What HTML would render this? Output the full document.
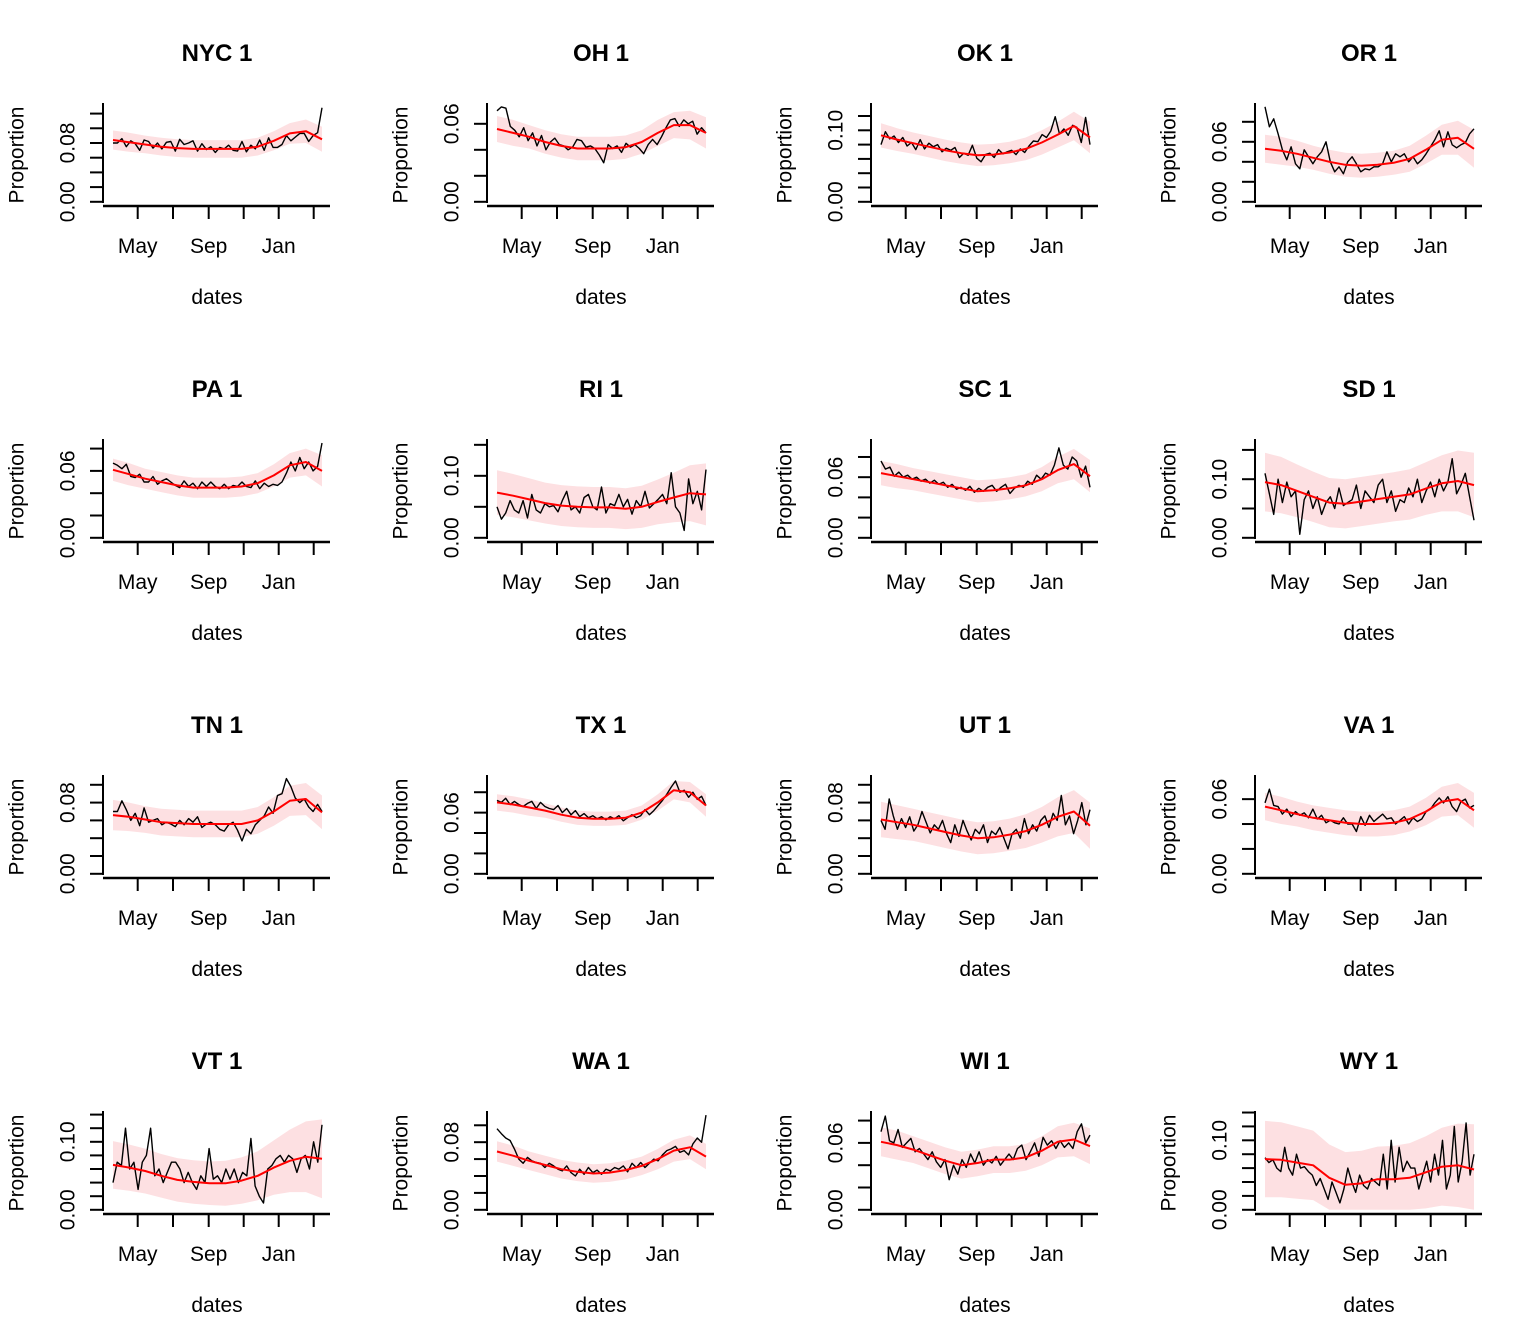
<!DOCTYPE html>
<html><head><meta charset="utf-8"><style>
html,body{margin:0;padding:0;background:#fff;}
svg{display:block;font-family:"Liberation Sans",Arial,sans-serif;}
</style></head><body>
<svg id="chart" width="1536" height="1344" viewBox="0 0 1536 1344" xmlns="http://www.w3.org/2000/svg"></svg>
<script>
const titles = ["NYC 1","OH 1","OK 1","OR 1","PA 1","RI 1","SC 1","SD 1","TN 1","TX 1","UT 1","VA 1","VT 1","WA 1","WI 1","WY 1"];
const monthLabels = ["May","Sep","Jan"];
const tickStep = [0.02,0.02,0.02,0.02,0.02,0.05,0.02,0.05,0.02,0.02,0.02,0.02,0.02,0.02,0.02,0.02];
const tickCount = [7,4,7,5,5,4,5,4,6,5,6,4,8,6,5,8];
const labeledTicks = [["0.00","0.08"],["0.00","0.06"],["0.00","0.10"],["0.00","0.06"],["0.00","0.06"],["0.00","0.10"],["0.00","0.06"],["0.00","0.10"],["0.00","0.08"],["0.00","0.06"],["0.00","0.08"],["0.00","0.06"],["0.00","0.10"],["0.00","0.08"],["0.00","0.06"],["0.00","0.10"]];
const yTop = [0.1344,0.0760,0.1382,0.0988,0.0886,0.1594,0.0978,0.1686,0.111,0.0969,0.111,0.0794,0.1453,0.1169,0.0886,0.1422];
const observed = [
[0.080,0.080,0.086,0.075,0.083,0.079,0.070,0.084,0.082,0.073,0.080,0.072,0.081,0.082,0.069,0.085,0.078,0.080,0.083,0.069,0.079,0.071,0.075,0.067,0.074,0.072,0.077,0.070,0.069,0.082,0.068,0.077,0.072,0.084,0.070,0.087,0.074,0.074,0.078,0.090,0.083,0.088,0.093,0.093,0.082,0.090,0.094,0.128],
[0.070,0.073,0.072,0.058,0.055,0.050,0.057,0.047,0.053,0.043,0.051,0.040,0.046,0.049,0.044,0.043,0.040,0.042,0.048,0.047,0.042,0.043,0.041,0.036,0.030,0.044,0.041,0.043,0.038,0.045,0.042,0.044,0.041,0.037,0.044,0.048,0.044,0.050,0.057,0.063,0.064,0.058,0.063,0.060,0.062,0.052,0.057,0.053],
[0.080,0.098,0.088,0.092,0.083,0.090,0.078,0.083,0.073,0.087,0.074,0.082,0.077,0.080,0.070,0.075,0.072,0.076,0.062,0.068,0.065,0.079,0.061,0.056,0.066,0.068,0.062,0.073,0.067,0.070,0.072,0.066,0.074,0.069,0.078,0.085,0.084,0.094,0.090,0.099,0.119,0.095,0.102,0.093,0.107,0.104,0.083,0.118,0.080],
[0.095,0.075,0.083,0.068,0.052,0.042,0.055,0.038,0.033,0.052,0.045,0.038,0.045,0.050,0.060,0.040,0.030,0.035,0.028,0.040,0.045,0.038,0.030,0.033,0.032,0.035,0.035,0.038,0.050,0.040,0.048,0.045,0.048,0.040,0.045,0.038,0.042,0.048,0.055,0.062,0.071,0.055,0.070,0.057,0.054,0.057,0.059,0.068,0.073],
[0.067,0.065,0.062,0.066,0.055,0.054,0.057,0.050,0.050,0.055,0.048,0.051,0.053,0.050,0.047,0.045,0.051,0.046,0.049,0.044,0.050,0.046,0.050,0.046,0.044,0.048,0.044,0.047,0.046,0.050,0.046,0.045,0.051,0.044,0.049,0.046,0.048,0.047,0.050,0.058,0.068,0.060,0.072,0.062,0.068,0.060,0.064,0.085],
[0.05,0.030,0.040,0.060,0.045,0.040,0.060,0.032,0.070,0.045,0.040,0.055,0.050,0.052,0.042,0.060,0.075,0.045,0.050,0.040,0.065,0.070,0.050,0.045,0.082,0.040,0.055,0.052,0.070,0.050,0.062,0.038,0.060,0.050,0.075,0.048,0.055,0.062,0.070,0.055,0.105,0.050,0.040,0.012,0.095,0.055,0.075,0.045,0.110],
[0.076,0.068,0.070,0.061,0.065,0.060,0.062,0.058,0.060,0.056,0.058,0.054,0.057,0.053,0.055,0.050,0.053,0.048,0.050,0.047,0.051,0.045,0.049,0.046,0.050,0.052,0.046,0.050,0.053,0.044,0.049,0.052,0.050,0.056,0.053,0.062,0.058,0.064,0.062,0.072,0.089,0.072,0.068,0.080,0.076,0.060,0.071,0.050],
[0.110,0.075,0.040,0.100,0.060,0.095,0.070,0.080,0.006,0.065,0.080,0.050,0.070,0.040,0.060,0.070,0.050,0.085,0.055,0.060,0.065,0.090,0.050,0.080,0.070,0.060,0.090,0.100,0.060,0.080,0.045,0.065,0.060,0.085,0.070,0.100,0.060,0.080,0.095,0.070,0.100,0.080,0.095,0.135,0.075,0.090,0.110,0.070,0.030],
[0.070,0.070,0.082,0.072,0.060,0.068,0.054,0.074,0.058,0.060,0.062,0.055,0.058,0.056,0.053,0.060,0.055,0.062,0.058,0.064,0.052,0.056,0.058,0.055,0.050,0.048,0.055,0.058,0.049,0.037,0.050,0.045,0.055,0.060,0.065,0.075,0.068,0.088,0.090,0.107,0.098,0.085,0.080,0.084,0.075,0.070,0.078,0.070],
[0.072,0.070,0.074,0.068,0.071,0.068,0.066,0.069,0.071,0.064,0.070,0.066,0.064,0.063,0.067,0.060,0.064,0.058,0.062,0.056,0.059,0.055,0.057,0.054,0.056,0.053,0.056,0.054,0.057,0.052,0.055,0.058,0.055,0.057,0.063,0.058,0.062,0.067,0.072,0.078,0.085,0.091,0.080,0.082,0.075,0.080,0.073,0.076,0.067],
[0.060,0.050,0.084,0.065,0.050,0.062,0.052,0.064,0.048,0.055,0.070,0.058,0.046,0.055,0.050,0.060,0.045,0.035,0.055,0.042,0.060,0.048,0.038,0.050,0.045,0.055,0.035,0.048,0.044,0.052,0.040,0.028,0.045,0.050,0.040,0.062,0.045,0.055,0.048,0.060,0.065,0.052,0.068,0.060,0.088,0.055,0.065,0.045,0.060,0.080,0.055,0.072],
[0.057,0.068,0.055,0.054,0.048,0.052,0.046,0.050,0.047,0.049,0.045,0.052,0.044,0.047,0.041,0.043,0.041,0.040,0.045,0.040,0.040,0.034,0.046,0.039,0.047,0.042,0.045,0.048,0.044,0.045,0.040,0.043,0.046,0.040,0.045,0.042,0.044,0.050,0.052,0.057,0.061,0.057,0.062,0.054,0.050,0.058,0.060,0.053,0.055],
[0.040,0.070,0.065,0.120,0.060,0.070,0.030,0.070,0.080,0.120,0.050,0.060,0.040,0.055,0.070,0.070,0.060,0.040,0.055,0.040,0.030,0.050,0.040,0.090,0.045,0.050,0.040,0.060,0.045,0.060,0.040,0.055,0.050,0.105,0.035,0.020,0.010,0.060,0.065,0.075,0.080,0.070,0.080,0.075,0.055,0.075,0.080,0.060,0.100,0.070,0.125],
[0.096,0.090,0.085,0.082,0.072,0.060,0.055,0.062,0.058,0.056,0.055,0.050,0.055,0.052,0.048,0.046,0.052,0.044,0.040,0.048,0.042,0.050,0.044,0.047,0.042,0.048,0.046,0.050,0.048,0.052,0.045,0.055,0.050,0.056,0.050,0.055,0.060,0.058,0.065,0.070,0.072,0.075,0.068,0.070,0.065,0.078,0.085,0.080,0.112],
[0.070,0.084,0.062,0.060,0.072,0.056,0.060,0.064,0.052,0.055,0.050,0.045,0.052,0.043,0.038,0.045,0.027,0.040,0.032,0.045,0.038,0.050,0.042,0.052,0.040,0.045,0.042,0.048,0.040,0.045,0.050,0.045,0.055,0.058,0.045,0.052,0.060,0.048,0.065,0.058,0.062,0.055,0.062,0.056,0.060,0.055,0.070,0.077,0.060,0.067],
[0.075,0.068,0.072,0.060,0.055,0.090,0.060,0.050,0.080,0.060,0.062,0.055,0.050,0.035,0.045,0.030,0.015,0.040,0.025,0.010,0.030,0.060,0.040,0.025,0.050,0.035,0.030,0.045,0.040,0.035,0.080,0.030,0.100,0.040,0.090,0.055,0.070,0.060,0.060,0.030,0.050,0.070,0.040,0.080,0.050,0.100,0.030,0.050,0.120,0.040,0.070,0.125,0.050,0.080]
];
const smooth = [
[0.084,0.081,0.078,0.075,0.073,0.072,0.072,0.072,0.072,0.075,0.083,0.093,0.096,0.085],
[0.056,0.053,0.050,0.046,0.043,0.041,0.041,0.041,0.042,0.046,0.053,0.059,0.059,0.053],
[0.093,0.087,0.082,0.077,0.072,0.068,0.065,0.066,0.069,0.074,0.083,0.094,0.106,0.090],
[0.053,0.051,0.048,0.044,0.040,0.037,0.036,0.037,0.039,0.043,0.052,0.062,0.064,0.053],
[0.061,0.057,0.053,0.050,0.047,0.045,0.045,0.045,0.046,0.049,0.056,0.065,0.068,0.060],
[0.073,0.068,0.062,0.056,0.052,0.050,0.049,0.049,0.047,0.050,0.058,0.065,0.072,0.070],
[0.064,0.061,0.058,0.055,0.052,0.049,0.046,0.047,0.049,0.052,0.058,0.067,0.073,0.061],
[0.095,0.090,0.080,0.070,0.060,0.058,0.062,0.066,0.070,0.074,0.084,0.093,0.097,0.090],
[0.066,0.064,0.061,0.058,0.057,0.056,0.056,0.056,0.056,0.060,0.070,0.082,0.084,0.069],
[0.070,0.068,0.065,0.062,0.058,0.055,0.054,0.054,0.055,0.060,0.070,0.082,0.080,0.067],
[0.061,0.058,0.055,0.051,0.047,0.043,0.040,0.041,0.044,0.048,0.055,0.064,0.070,0.054],
[0.054,0.051,0.048,0.045,0.043,0.041,0.040,0.040,0.041,0.044,0.050,0.058,0.060,0.051],
[0.066,0.062,0.057,0.050,0.044,0.041,0.039,0.039,0.043,0.050,0.062,0.072,0.078,0.075],
[0.069,0.064,0.058,0.053,0.048,0.045,0.043,0.044,0.047,0.052,0.060,0.070,0.074,0.063],
[0.061,0.058,0.054,0.049,0.044,0.040,0.042,0.045,0.045,0.047,0.053,0.061,0.063,0.057],
[0.073,0.072,0.068,0.064,0.046,0.036,0.038,0.044,0.044,0.046,0.054,0.062,0.064,0.058]
];
const bandHalf = [
[0.013,0.013,0.012,0.012,0.012,0.012,0.012,0.012,0.012,0.012,0.013,0.014,0.016,0.017],
[0.010,0.010,0.009,0.009,0.009,0.009,0.009,0.009,0.009,0.009,0.010,0.010,0.011,0.012],
[0.017,0.016,0.015,0.015,0.015,0.015,0.015,0.015,0.015,0.016,0.017,0.018,0.020,0.022],
[0.014,0.014,0.013,0.012,0.012,0.012,0.012,0.012,0.012,0.013,0.014,0.015,0.017,0.019],
[0.010,0.010,0.009,0.009,0.009,0.009,0.009,0.009,0.009,0.009,0.010,0.011,0.012,0.014],
[0.036,0.035,0.034,0.033,0.033,0.033,0.033,0.033,0.033,0.034,0.036,0.040,0.045,0.050],
[0.012,0.012,0.011,0.011,0.011,0.011,0.011,0.011,0.011,0.011,0.012,0.013,0.015,0.016],
[0.050,0.048,0.045,0.043,0.042,0.042,0.042,0.042,0.042,0.043,0.045,0.048,0.052,0.055],
[0.017,0.016,0.015,0.015,0.015,0.015,0.015,0.015,0.015,0.015,0.016,0.017,0.018,0.019],
[0.008,0.008,0.008,0.007,0.007,0.007,0.007,0.007,0.007,0.007,0.008,0.009,0.010,0.011],
[0.020,0.019,0.018,0.018,0.018,0.018,0.018,0.018,0.018,0.019,0.020,0.022,0.024,0.026],
[0.011,0.011,0.010,0.010,0.010,0.010,0.010,0.010,0.010,0.010,0.011,0.012,0.013,0.014],
[0.035,0.034,0.033,0.032,0.032,0.032,0.032,0.033,0.034,0.036,0.040,0.046,0.052,0.058],
[0.012,0.012,0.011,0.011,0.011,0.011,0.011,0.011,0.011,0.011,0.012,0.013,0.014,0.015],
[0.013,0.013,0.012,0.012,0.012,0.012,0.012,0.012,0.012,0.012,0.013,0.014,0.015,0.016],
[0.055,0.054,0.052,0.050,0.048,0.047,0.047,0.047,0.048,0.050,0.052,0.056,0.060,0.065]
];

const svg = document.getElementById('chart');
const NS = 'http://www.w3.org/2000/svg';
function mk(tag, attrs, parent){
  const e = document.createElementNS(NS, tag);
  for (const k in attrs) e.setAttribute(k, attrs[k]);
  parent.appendChild(e);
  return e;
}
const X0 = 113, X1 = 322, Y0 = 201.8, YT = 103;
const monthTickX = [137.7,173,208.7,243.7,278.7,313.7];
const FS = 21;

titles.forEach((title, p) => {
  const ox = (p % 4) * 384, oy = Math.floor(p / 4) * 336;
  const g = mk('g', {transform: `translate(${ox},${oy})`}, svg);
  
  
  const yScale = v => Y0 - v / yTop[p] * (Y0 - YT);
  const xScale = (i, n) => X0 + i * (X1 - X0) / (n - 1);

  const sm = smooth[p], bh = bandHalf[p];
  let up = sm.map((v, i) => `${xScale(i, sm.length).toFixed(1)},${yScale(v + bh[i]).toFixed(1)}`);
  let lo = sm.map((v, i) => `${xScale(i, sm.length).toFixed(1)},${yScale(Math.max(v - bh[i], 0)).toFixed(1)}`).reverse();
  const band = mk('polygon', {points: up.concat(lo).join(' '), fill: '#fde0e2', stroke: 'none'}, g);
  
  

  const ob = observed[p];
  const obs = mk('polyline', {points: ob.map((v, i) => `${xScale(i, ob.length).toFixed(1)},${yScale(v).toFixed(1)}`).join(' '), fill: 'none', stroke: '#000', 'stroke-width': 1.4, 'stroke-linejoin': 'round'}, g);
  
  

  const sl = mk('polyline', {points: sm.map((v, i) => `${xScale(i, sm.length).toFixed(1)},${yScale(v).toFixed(1)}`).join(' '), fill: 'none', stroke: '#ff0000', 'stroke-width': 2, 'stroke-linejoin': 'round'}, g);
  
  

  const ya = mk('line', {x1: 103, y1: 103, x2: 103, y2: 203, stroke: '#000', 'stroke-width': 2}, g);
  
  
  for (let t = 0; t < tickCount[p]; t++) {
    const v = t * tickStep[p];
    const y = yScale(v);
    const tk = mk('line', {x1: 90, y1: y, x2: 103, y2: y, stroke: '#000', 'stroke-width': 2}, g);
    
    
    const lab = v.toFixed(2);
    if (labeledTicks[p].includes(lab)) {
      const tx = mk('text', {x: 0, y: 0, transform: `translate(74.5,${y}) rotate(-90)`, 'text-anchor': 'middle', 'font-size': FS}, g);
      tx.textContent = lab;
      
      
    }
  }
  const xa = mk('line', {x1: 103, y1: 206, x2: 330, y2: 206, stroke: '#000', 'stroke-width': 2.5}, g);
  
  
  monthTickX.forEach((x, i) => {
    const tk = mk('line', {x1: x, y1: 206, x2: x, y2: 219, stroke: '#000', 'stroke-width': 2}, g);
    
    
  });
  monthLabels.forEach((m, i) => {
    const tx = mk('text', {x: monthTickX[i * 2], y: 253, 'text-anchor': 'middle', 'font-size': FS}, g);
    tx.textContent = m;
    
    
  });
  const tt = mk('text', {x: 217, y: 61, 'text-anchor': 'middle', 'font-size': 24, 'font-weight': 'bold'}, g);
  tt.textContent = title;
  
  
  const xl = mk('text', {x: 217, y: 304, 'text-anchor': 'middle', 'font-size': FS}, g);
  xl.textContent = 'dates';
  
  
  const yl = mk('text', {x: 0, y: 0, transform: 'translate(23.5,155) rotate(-90)', 'text-anchor': 'middle', 'font-size': FS}, g);
  yl.textContent = 'Proportion';
  
  
});
</script>
</body></html>
